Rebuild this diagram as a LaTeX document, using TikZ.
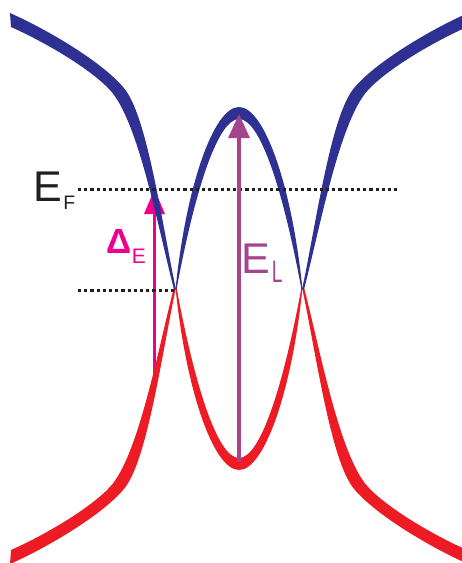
\documentclass[tikz,border=0pt]{standalone}
\usepackage{fontspec}
\setmainfont{Liberation Sans}
\usetikzlibrary{arrows.meta}
\definecolor{bandblue}{RGB}{46,49,146}
\definecolor{bandred}{RGB}{237,28,36}
\definecolor{gapmag}{RGB}{236,0,140}
\definecolor{elpurple}{RGB}{166,68,140}
\definecolor{dotblack}{RGB}{35,31,32}
% left outer band (upper edge forward, lower edge backward)
\newcommand\outerband{(10,13) .. controls (55,33) and (112.5,69.3) .. (127.5,93)
  .. controls (149,127) and (163,229.5) .. (176,289.5)
  -- (174,289.5) .. controls (158.5,229.5) and (139.5,127) .. (112.5,93)
  .. controls (98.5,75.4) and (56,47.25) .. (11,27) -- cycle}
% central arch (outer edge left->right, inner edge right->left)
\newcommand\archband{(175.5,289.5) .. controls (185.5,189.5) and (213,107) .. (239,107)
  .. controls (265,107) and (292.5,189.5) .. (302.5,289.5)
  -- (301.5,289.5) .. controls (284,195) and (261,119) .. (239,119)
  .. controls (217,119) and (194,195) .. (176.5,289.5) -- cycle}
\tikzset{
  dotline/.style={dotblack, line width=3pt, dash pattern=on 3.1pt off 3.1pt},
  lbl/.style={anchor=base west, inner sep=0pt, outer sep=0pt},
}
\begin{document}
\begin{tikzpicture}[x=1pt, y=-1pt]
\useasboundingbox (0,0) rectangle (462,563);
\clip (0,0) rectangle (462,563);
% coordinates
\coordinate (dEbot) at (154.5,383);
\coordinate (dEtop) at (154.5,189);
\coordinate (ELbot) at (239,462);
\coordinate (ELtop) at (239,114);
\coordinate (EFa) at (78,189.5);
\coordinate (EFb) at (398,189.5);
\coordinate (Xa) at (78,290);
\coordinate (Xb) at (174,290);
% magenta arrow (under the bands)
\draw[gapmag, line width=3.6pt, -{Triangle[width=20pt,length=25pt]}] (dEbot) -- (dEtop);
% red bands (mirror of blue about y=288.5)
\begin{scope}[yscale=-1, yshift=577pt]
  \fill[bandred] \outerband;
  \fill[bandred] \archband;
  \begin{scope}[xscale=-1, xshift=-478pt]
    \fill[bandred] \outerband;
  \end{scope}
\end{scope}
% blue bands
\fill[bandblue] \outerband;
\fill[bandblue] \archband;
\begin{scope}[xscale=-1, xshift=-478pt]
  \fill[bandblue] \outerband;
\end{scope}
% dotted levels
\draw[dotline] (EFa) -- (EFb);
\draw[dotline] (Xa) -- (Xb);
% E_L arrow
\draw[elpurple, line width=3.4pt, -{Triangle[width=21pt,length=24pt]}] (ELbot) -- (ELtop);
% labels
\node[lbl, font=\fontsize{43}{43}\selectfont, text=dotblack] (EFE) at (33.6,201) {E};
\node[lbl, font=\fontsize{19.5}{19.5}\selectfont, text=dotblack] (EFF) at (63.4,209) {F};
\node[lbl, font=\bfseries\fontsize{35}{35}\selectfont, text=gapmag] (DEd) at (106,253.5) {Δ};
\node[lbl, font=\fontsize{21}{21}\selectfont, text=gapmag] (DEe) at (131.8,263) {E};
\node[lbl, font=\fontsize{43}{43}\selectfont, text=elpurple] (ELE) at (241.6,273.5) {E};
\node[lbl, font=\fontsize{31}{31}\selectfont, text=elpurple, xscale=0.62] (ELL) at (271.8,282) {L};
\end{tikzpicture}
\end{document}
